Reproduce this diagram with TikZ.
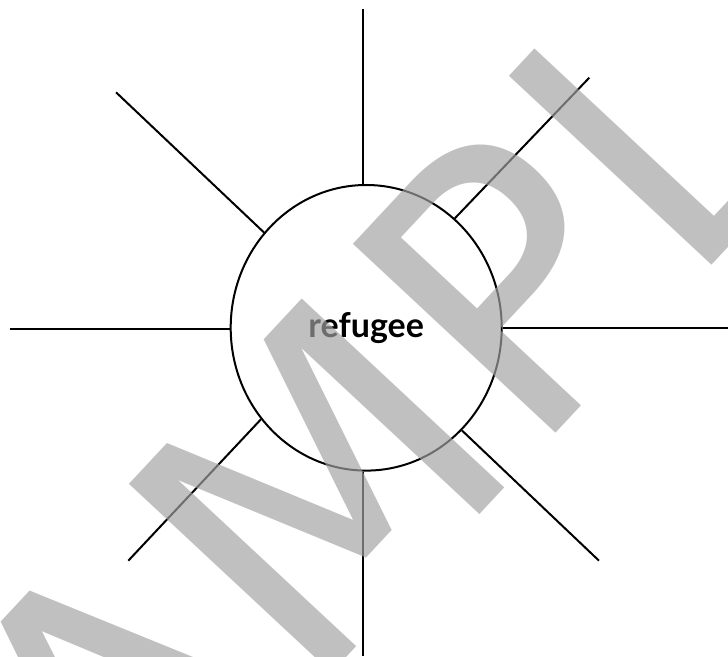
\documentclass[tikz,border=0pt]{standalone}
\usepackage{fontspec}
\setmainfont{Lato}
\newfontfamily\markfont{DejaVu Sans}
\usepackage{tikz}
\usetikzlibrary{shapes.geometric}
\definecolor{markgray}{gray}{0.635}
\tikzset{
    hub/.style={ellipse, draw=black, line width=2pt, minimum width=271pt, minimum height=285.6pt, inner sep=0pt, font=\fontsize{34}{40}\selectfont\bfseries},
    spoke/.style={line width=2pt, black},
    stamp/.style={text=markgray, text opacity=0.68, inner sep=0pt, font=\markfont\fontsize{380}{380}\selectfont}
}

\begin{document}
\begin{tikzpicture}[x=1pt, y=1pt]
    \useasboundingbox (0,0) rectangle (728,656);

    \node (refugee) [hub] at (366.2,328.2) {refugee};

    % free ends of the spokes
    \coordinate (top_end) at (363.3,647);
    \coordinate (bottom_end) at (363.3,0);
    \coordinate (left_end) at (10,326.7);
    \coordinate (right_end) at (728,328);
    \coordinate (ul_end) at (116,563.7);
    \coordinate (ur_end) at (589.3,578.3);
    \coordinate (ll_end) at (128.3,95.3);
    \coordinate (lr_end) at (599,95.3);

    \draw [spoke] (refugee.north -| top_end) -- (top_end);
    \draw [spoke] (refugee.south -| bottom_end) -- (bottom_end);
    \draw [spoke] (refugee.west |- left_end) -- (left_end);
    \draw [spoke] (refugee.east |- right_end) -- (right_end);
    \draw [spoke] (refugee.137.6) -- (ul_end);
    \draw [spoke] (refugee.51.1) -- (ur_end);
    \draw [spoke] (refugee.221.6) -- (ll_end);
    \draw [spoke] (refugee.313.8) -- (lr_end);

    \node (sample) [stamp, anchor=base west, rotate=47] at (-40,-416) {SAMPLE};
\end{tikzpicture}
\end{document}
